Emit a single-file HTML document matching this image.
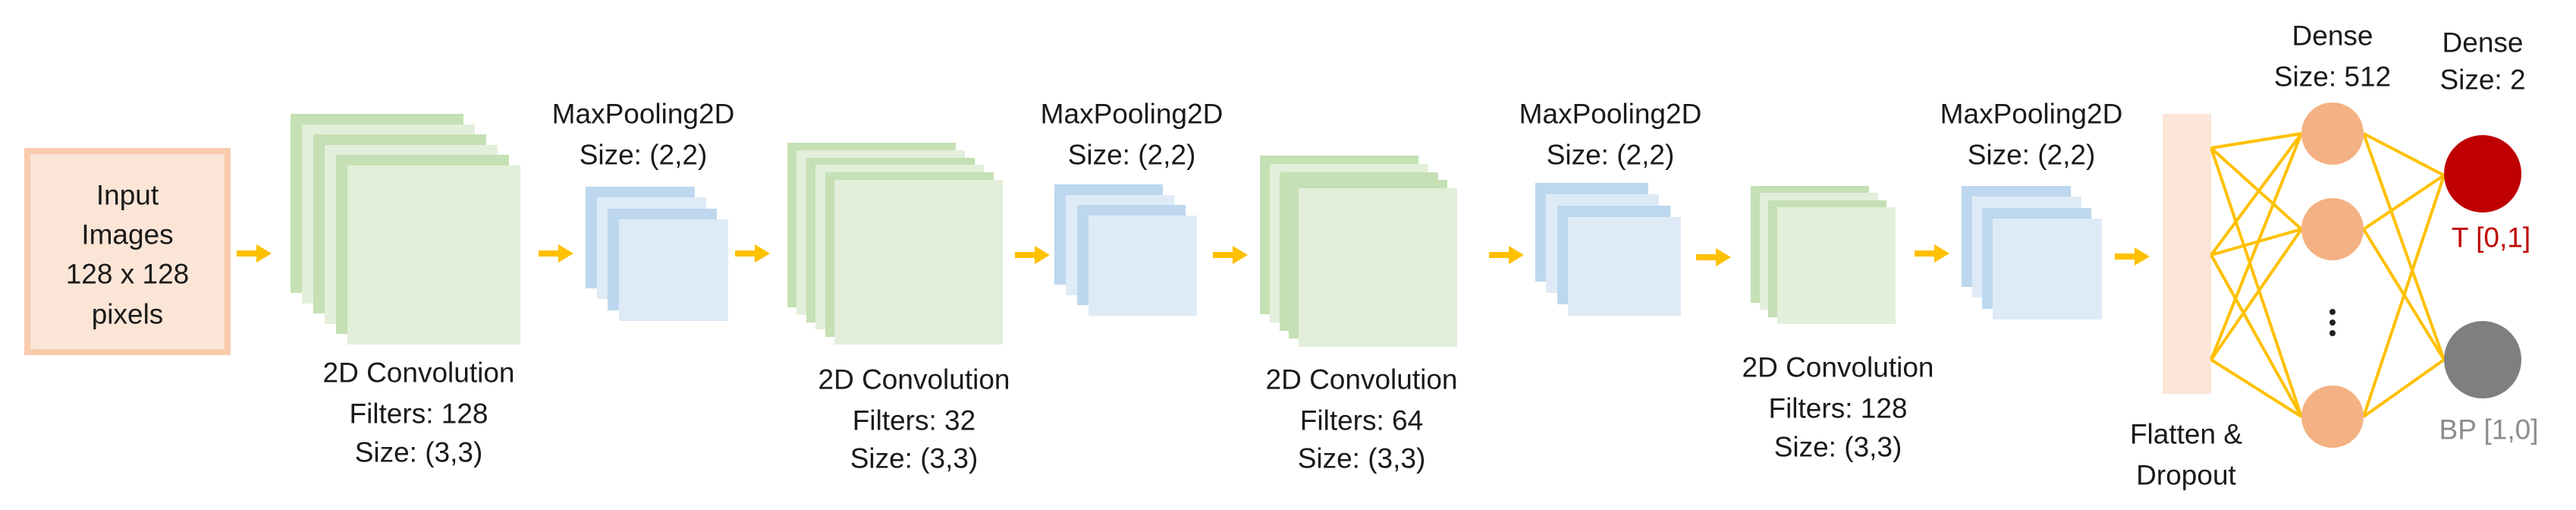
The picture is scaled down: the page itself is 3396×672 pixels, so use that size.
<!DOCTYPE html>
<html><head><meta charset="utf-8"><style>
html,body{margin:0;padding:0;background:#fff;width:3396px;height:672px;overflow:hidden}
svg text{font-family:"Liberation Sans",sans-serif;font-size:37px;fill:#1a1a1a;text-anchor:middle;dominant-baseline:central}
</style></head><body>
<svg width="3396" height="672" viewBox="0 0 3396 672" xmlns="http://www.w3.org/2000/svg">
<defs>
<g id="arr"><rect x="0" y="-4" width="28" height="8" fill="#ffc000"/><polygon points="26,-12 46,0 26,12" fill="#ffc000"/></g>
</defs>
<!-- input -->
<rect x="36" y="199" width="264" height="265" fill="#fbe5d6" stroke="#f8cbad" stroke-width="8"/>
<text x="168" y="257">Input</text>
<text x="168" y="309">Images</text>
<text x="168" y="361">128 x 128</text>
<text x="168" y="414">pixels</text>
<!-- arrows -->
<use href="#arr" x="312" y="334"/>
<use href="#arr" x="710" y="334"/>
<use href="#arr" x="969" y="334"/>
<use href="#arr" x="1338" y="336"/>
<use href="#arr" x="1599" y="336"/>
<use href="#arr" x="1963" y="336"/>
<use href="#arr" x="2236" y="339"/>
<use href="#arr" x="2524" y="334"/>
<use href="#arr" x="2788" y="338"/>
<!-- conv1 -->
<g>
<rect x="383" y="150" width="228" height="236" fill="#c5e0b4"/>
<rect x="398" y="164" width="228" height="236" fill="#e2efda"/>
<rect x="413" y="177" width="228" height="236" fill="#c5e0b4"/>
<rect x="428" y="191" width="228" height="236" fill="#e2efda"/>
<rect x="443" y="204" width="228" height="236" fill="#c5e0b4"/>
<rect x="458" y="218" width="228" height="236" fill="#e2efda"/>
</g>
<!-- conv2 -->
<g>
<rect x="1038" y="188" width="222" height="217" fill="#c5e0b4"/>
<rect x="1050" y="198" width="222" height="217" fill="#e2efda"/>
<rect x="1063" y="208" width="222" height="217" fill="#c5e0b4"/>
<rect x="1075" y="217" width="222" height="217" fill="#e2efda"/>
<rect x="1088" y="227" width="222" height="217" fill="#c5e0b4"/>
<rect x="1100" y="237" width="222" height="217" fill="#e2efda"/>
</g>
<!-- conv3 -->
<g>
<rect x="1661" y="205" width="209" height="209" fill="#c5e0b4"/>
<rect x="1674" y="216" width="209" height="209" fill="#e2efda"/>
<rect x="1687" y="227" width="209" height="209" fill="#c5e0b4"/>
<rect x="1699" y="237" width="209" height="209" fill="#c5e0b4"/>
<rect x="1712" y="248" width="209" height="209" fill="#e2efda"/>
</g>
<!-- conv4 -->
<g>
<rect x="2308" y="245" width="156" height="154" fill="#c5e0b4"/>
<rect x="2320" y="254" width="156" height="154" fill="#e2efda"/>
<rect x="2331" y="264" width="156" height="154" fill="#c5e0b4"/>
<rect x="2343" y="273" width="156" height="154" fill="#e2efda"/>
</g>
<!-- maxpools -->
<g>
<rect x="772" y="246" width="144" height="134" fill="#bdd7ee"/>
<rect x="787" y="260" width="144" height="134" fill="#deebf7"/>
<rect x="801" y="275" width="144" height="134" fill="#bdd7ee"/>
<rect x="816" y="289" width="144" height="134" fill="#deebf7"/>
</g>
<g>
<rect x="1390" y="243" width="143" height="132" fill="#bdd7ee"/>
<rect x="1405" y="257" width="143" height="132" fill="#deebf7"/>
<rect x="1420" y="270" width="143" height="132" fill="#bdd7ee"/>
<rect x="1435" y="284" width="143" height="132" fill="#deebf7"/>
</g>
<g>
<rect x="2024" y="241" width="149" height="130" fill="#bdd7ee"/>
<rect x="2038" y="256" width="149" height="130" fill="#deebf7"/>
<rect x="2053" y="271" width="149" height="130" fill="#bdd7ee"/>
<rect x="2067" y="286" width="149" height="130" fill="#deebf7"/>
</g>
<g>
<rect x="2586" y="245" width="144" height="133" fill="#bdd7ee"/>
<rect x="2600" y="259" width="144" height="133" fill="#deebf7"/>
<rect x="2613" y="274" width="144" height="133" fill="#bdd7ee"/>
<rect x="2627" y="288" width="144" height="133" fill="#deebf7"/>
</g>
<!-- labels -->
<text x="552" y="491">2D Convolution</text>
<text x="552" y="545">Filters: 128</text>
<text x="552" y="596">Size: (3,3)</text>
<text x="1205" y="500">2D Convolution</text>
<text x="1205" y="554">Filters: 32</text>
<text x="1205" y="604">Size: (3,3)</text>
<text x="1795" y="500">2D Convolution</text>
<text x="1795" y="554">Filters: 64</text>
<text x="1795" y="604">Size: (3,3)</text>
<text x="2423" y="484">2D Convolution</text>
<text x="2423" y="538">Filters: 128</text>
<text x="2423" y="589">Size: (3,3)</text>
<text x="848" y="150">MaxPooling2D</text>
<text x="848" y="204">Size: (2,2)</text>
<text x="1492" y="150">MaxPooling2D</text>
<text x="1492" y="204">Size: (2,2)</text>
<text x="2123" y="150">MaxPooling2D</text>
<text x="2123" y="204">Size: (2,2)</text>
<text x="2678" y="150">MaxPooling2D</text>
<text x="2678" y="204">Size: (2,2)</text>
<!-- flatten -->
<rect x="2851" y="150" width="64" height="369" fill="#fbe5d6"/>
<text x="2882" y="572">Flatten &amp;</text>
<text x="2882" y="626">Dropout</text>
<!-- connections -->
<g stroke="#ffc000" stroke-width="4" fill="none">
<line x1="2915" y1="195" x2="3034" y2="176"/><line x1="2915" y1="195" x2="3034" y2="302"/><line x1="2915" y1="195" x2="3034" y2="549"/>
<line x1="2915" y1="336" x2="3034" y2="176"/><line x1="2915" y1="336" x2="3034" y2="302"/><line x1="2915" y1="336" x2="3034" y2="549"/>
<line x1="2915" y1="474" x2="3034" y2="176"/><line x1="2915" y1="474" x2="3034" y2="302"/><line x1="2915" y1="474" x2="3034" y2="549"/>
<line x1="3116" y1="176" x2="3222" y2="231"/><line x1="3116" y1="176" x2="3222" y2="474"/>
<line x1="3116" y1="302" x2="3222" y2="231"/><line x1="3116" y1="302" x2="3222" y2="474"/>
<line x1="3116" y1="549" x2="3222" y2="231"/><line x1="3116" y1="549" x2="3222" y2="474"/>
</g>
<circle cx="3075" cy="176" r="41" fill="#f4b183"/>
<circle cx="3075" cy="302" r="41" fill="#f4b183"/>
<circle cx="3075" cy="549" r="41" fill="#f4b183"/>
<circle cx="3075" cy="411" r="4" fill="#222"/>
<circle cx="3075" cy="425" r="4" fill="#222"/>
<circle cx="3075" cy="439" r="4" fill="#222"/>
<circle cx="3273" cy="229" r="51" fill="#c00000"/>
<circle cx="3273" cy="474" r="51" fill="#7f7f7f"/>
<text x="3075" y="47">Dense</text>
<text x="3075" y="101">Size: 512</text>
<text x="3273" y="56">Dense</text>
<text x="3273" y="105">Size: 2</text>
<text x="3284" y="313" style="fill:#c00000">T [0,1]</text>
<text x="3281" y="566" style="fill:#8c8c8c">BP [1,0]</text>
</svg>
</body></html>
